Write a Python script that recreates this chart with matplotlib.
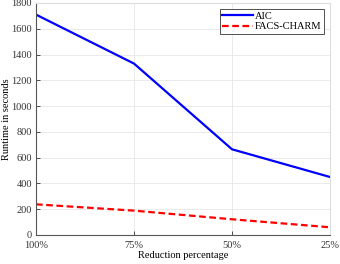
import matplotlib
matplotlib.use('Agg')
import matplotlib.pyplot as plt

# data
labels = ['100%', '75%', '50%', '25%']
aic = [1710, 1330, 665, 450]
facs = [238, 189, 122, 60]

plt.rcParams['font.family'] = 'Liberation Serif'
plt.rcParams['font.size'] = 7.5

fig = plt.figure(figsize=(3.4, 2.64), dpi=100)
ax = fig.add_axes([36/340, 29/264, 294/340, 232/264])
x = list(range(len(labels)))
ax.plot(x, aic, color='#0000ff', lw=1.6, label='AIC')
ax.plot(x, facs, color='#ff0000', lw=1.6, ls=(0, (3, 1.6)), label='FACS-CHARM')

ax.set_xlim(0, 3)
ax.set_ylim(0, 1800)
ax.set_xticks(x)
ax.set_xticklabels(labels)
ax.set_yticks(range(0, 1801, 200))
ax.grid(True, color='#e6e6e6', lw=0.6)
ax.set_axisbelow(True)
for s in ['left', 'bottom']:
    ax.spines[s].set_color('#555555')
for s in ['top', 'right']:
    ax.spines[s].set_color('#dddddd')
ax.tick_params(colors='#333333', length=3, width=0.6, direction='in', labelsize=7.5)
ax.tick_params(axis='y', pad=3)
ax.tick_params(axis='x', pad=4)
ax.set_xlabel('Reduction percentage', fontsize=7.5, labelpad=1)
ax.set_ylabel('Runtime in seconds', fontsize=7.5)
ax.yaxis.set_label_coords(-0.085, 0.5)
leg = ax.legend(loc='upper right', fontsize=7.5, fancybox=False, framealpha=1,
                edgecolor='#333333', handlelength=3, borderpad=0.2,
                labelspacing=0.15, handletextpad=0.2, borderaxespad=0.6)
leg.get_frame().set_linewidth(0.6)

plt.savefig('out.png', dpi=100)
